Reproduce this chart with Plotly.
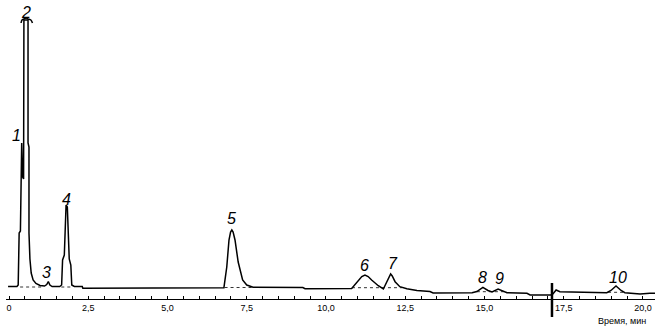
import plotly.graph_objects as go

# Chromatogram trace (time, min ; detector signal, arbitrary units)
trace_t = [-0.03, 0.25, 0.29, 0.31, 0.32, 0.36, 0.40, 0.43, 0.46, 0.47, 0.60, 0.60, 0.63, 0.63,
           0.66, 0.70, 0.76, 0.85, 0.98, 1.12, 1.19, 1.24, 1.29, 1.36, 1.60, 1.66, 1.69, 1.745, 1.80,
           1.84, 1.90, 1.95, 1.98, 2.06, 2.31, 2.33, 6.78, 6.87, 6.94, 6.99, 7.03, 7.07, 7.13, 7.23,
           7.37, 7.50, 7.70, 9.27, 9.34, 10.81, 11.02, 11.13, 11.23, 11.33, 11.44, 11.65, 11.81, 11.91,
           12.00, 12.04, 12.09, 12.18, 12.33, 12.55, 12.87, 13.28, 13.38, 14.61, 14.76, 14.95, 15.11,
           15.24, 15.43, 15.58, 15.71, 16.34, 16.44, 17.10, 17.16, 17.26, 17.38, 18.86, 18.99, 19.15,
           19.31, 19.43, 19.91, 20.22, 20.38]
trace_s = [10.5, 10.5, 12, 40, 64, 66, 154, 120, 118, 277, 277, 154, 150, 64,
           38, 24, 17, 13.5, 11.5, 11, 12.5, 15.5, 12, 10.5, 10.5, 12, 37, 42, 92,
           90, 38, 32, 12, 10.5, 10.5, 8.7, 9.3, 30, 57, 65, 67, 65, 57, 35,
           17, 12, 9.7, 9.5, 8.3, 8.5, 17, 20.5, 22, 20.5, 17, 11.3, 8, 15.3,
           21.5, 23, 21, 15.3, 10.3, 8.2, 6.5, 5.5, 4, 4.3, 5.5, 9.7, 6.5,
           5, 8, 6, 4.3, 3.7, 2, 2, 3, 7, 5.3, 4.3, 6.5, 11,
           6.5, 4.3, 3, 3.7, 3.7]

# Off-scale cap on top of peak 2
cap_t = [0.38, 0.41, 0.47, 0.54, 0.60, 0.69, 0.74]
cap_s = [274, 277, 278, 279, 278, 277, 274]

# Dotted peak baselines
base_t = [0.35, 1.05, None, 1.65, 1.97, None, 6.80, 7.70, None, 10.82, 12.40, None, 14.76, 15.71, None, 18.90, 19.43]
base_s = [10, 10, None, 10, 10, None, 9.5, 9.5, None, 9.3, 9.3, None, 5.3, 5.3, None, 4.7, 4.7]

# Vertical marker bar
bar_t = [17.13, 17.13]
bar_s = [14, -20]

# Peak labels
peak_names = ["1", "2", "3", "4", "5", "6", "7", "8", "9", "10"]
peak_lab_t = [0.25, 0.53, 1.19, 1.80, 7.03, 11.23, 12.11, 14.95, 15.46, 19.21]
peak_lab_s = [162, 285, 25, 98, 79, 32, 34, 20, 19, 20]

# Axis ticks
tick_vals = [0, 2.5, 5.0, 7.5, 10.0, 12.5, 15.0, 17.5, 20.0]
tick_text = ["0", "2,5", "5,0", "7,5", "10,0", "12,5", "15,0", "17,5", "20,0"]
axis_title = "Время, мин"

FONT = "Liberation Sans, Arial, sans-serif"

fig = go.Figure()
fig.add_trace(go.Scatter(x=base_t, y=base_s, mode="lines",
                         line=dict(color="#333333", width=1, dash="dot"), hoverinfo="skip"))
fig.add_trace(go.Scatter(x=trace_t, y=trace_s, mode="lines",
                         line=dict(color="black", width=1.5), hoverinfo="skip"))
fig.add_trace(go.Scatter(x=cap_t, y=cap_s, mode="lines", line_shape="spline",
                         line=dict(color="black", width=1.5), hoverinfo="skip"))
fig.add_trace(go.Scatter(x=bar_t, y=bar_s, mode="lines",
                         line=dict(color="black", width=2.5), hoverinfo="skip"))

for name, t, s in zip(peak_names, peak_lab_t, peak_lab_s):
    fig.add_annotation(x=t, y=s, xref="x", yref="y", text=name, showarrow=False,
                       font=dict(family=FONT, size=16, color="black", style="italic"))

fig.add_annotation(x=19.34, y=-24, xref="x", yref="y", text=axis_title, showarrow=False,
                   font=dict(family=FONT, size=9, color="black"))

fig.update_layout(
    width=662, height=327,
    margin=dict(l=6, r=7, t=0, b=0, pad=0),
    paper_bgcolor="white", plot_bgcolor="white",
    showlegend=False,
    font=dict(family=FONT, color="black"),
    xaxis=dict(range=[-0.095, 20.38], anchor="free", position=28 / 327,
               showline=True, linecolor="black", linewidth=1.2,
               ticks="inside", ticklen=3, tickcolor="black", tickwidth=1,
               tickvals=tick_vals, ticktext=tick_text,
               tickfont=dict(family=FONT, size=9, color="black"),
               showgrid=False, zeroline=False,
               minor=dict(tick0=0, dtick=0.5, ticks="inside", ticklen=3,
                          tickcolor="black", tickwidth=1, showgrid=False)),
    yaxis=dict(range=[-30, 297], visible=False, showgrid=False, zeroline=False),
)

fig.write_html("out.html")
